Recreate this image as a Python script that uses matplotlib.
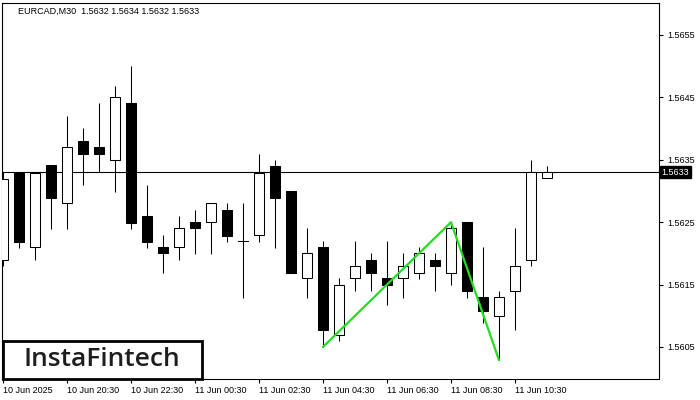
import matplotlib
matplotlib.use("Agg")
import matplotlib.pyplot as plt
from matplotlib.patches import Rectangle

plt.rcParams['font.family'] = ['Liberation Sans', 'DejaVu Sans']

opens = [1.56189, 1.56329, 1.56210, 1.56341, 1.56280, 1.56380, 1.56371, 1.56349, 1.56441, 1.56260,
         1.56210, 1.56210, 1.56250, 1.56250, 1.56270, 1.56220, 1.56229, 1.56340, 1.56300, 1.56160,
         1.56210, 1.56069, 1.56160, 1.56189, 1.56160, 1.56160, 1.56169, 1.56189, 1.56169, 1.56250,
         1.56130, 1.56099, 1.56139, 1.56189, 1.5632]
highs = [1.56330, 1.56330, 1.56329, 1.56341, 1.56420, 1.56401, 1.56441, 1.56469, 1.56500, 1.56310,
         1.56230, 1.56260, 1.56270, 1.56280, 1.56280, 1.56280, 1.56360, 1.56350, 1.56300, 1.56240,
         1.56220, 1.56160, 1.56220, 1.56200, 1.56220, 1.56200, 1.56210, 1.56200, 1.56250, 1.56250,
         1.56210, 1.56140, 1.56241, 1.56349, 1.5634]
lows = [1.56179, 1.56209, 1.56189, 1.56239, 1.56239, 1.56309, 1.56330, 1.56299, 1.56239, 1.56209,
        1.56169, 1.56189, 1.56199, 1.56199, 1.56219, 1.56129, 1.56219, 1.56209, 1.56169, 1.56129,
        1.56050, 1.56059, 1.56139, 1.56139, 1.56118, 1.56129, 1.56159, 1.56139, 1.56149, 1.56129,
        1.56089, 1.56029, 1.56078, 1.56179, 1.5632]
closes = [1.56319, 1.56219, 1.56329, 1.56289, 1.56371, 1.56360, 1.56360, 1.56450, 1.56249, 1.56219,
          1.56200, 1.56240, 1.56240, 1.56280, 1.56228, 1.56220, 1.56329, 1.56289, 1.56169, 1.56200,
          1.56078, 1.56149, 1.56179, 1.56169, 1.56149, 1.56179, 1.56200, 1.56179, 1.56240, 1.56139,
          1.56108, 1.56130, 1.56179, 1.56330, 1.5633]

pattern_idx = [20, 28, 31]
pattern_price = [1.56050, 1.56250, 1.56029]

current_price = 1.5633
yticks = [1.5605, 1.5615, 1.5625, 1.5635, 1.5645, 1.5655]
xtick_idx = [0, 4, 8, 12, 16, 20, 24, 28, 32]
xtick_labels = ["10 Jun 2025", "10 Jun 20:30", "10 Jun 22:30", "11 Jun 00:30", "11 Jun 02:30",
                "11 Jun 04:30", "11 Jun 06:30", "11 Jun 08:30", "11 Jun 10:30"]
title_text = "EURCAD,M30  1.5632 1.5634 1.5632 1.5633"

W, H = 700, 400
fig = plt.figure(figsize=(7, 4), dpi=100)
ax = fig.add_axes([2 / W, (H - 379) / H, 657 / W, 376.5 / H])
ax.set_xlim(-0.0625, 41)
ax.set_ylim(1.559987, 1.56602)

bw = 0.625
for i, (o, h, l, c) in enumerate(zip(opens, highs, lows, closes)):
    top = max(o, c)
    bot = min(o, c)
    ax.plot([i, i], [l, bot], color='black', lw=0.75, zorder=2, solid_capstyle='butt')
    ax.plot([i, i], [top, h], color='black', lw=0.75, zorder=2, solid_capstyle='butt')
    if abs(top - bot) < 1e-6:
        ax.plot([i - bw / 2, i + bw / 2], [o, o], color='black', lw=0.75, zorder=3)
    else:
        fc = 'white' if c > o else 'black'
        ax.add_patch(Rectangle((i - bw / 2, bot), bw, top - bot, facecolor=fc,
                               edgecolor='black', lw=0.75, zorder=3))

ax.axhline(current_price, color='black', lw=0.8, zorder=1)
ax.plot(pattern_idx, pattern_price, color='#22dd22', lw=1.6, zorder=4, solid_capstyle='round')

for s in ax.spines.values():
    s.set_color('black')
    s.set_linewidth(0.8)

ax.yaxis.tick_right()
ax.set_yticks(yticks)
ax.set_yticklabels([f"{v:.4f}" for v in yticks])
ax.tick_params(axis='y', direction='out', length=3, width=0.8, labelsize=6.5, pad=3, colors='black')
ax.set_xticks(xtick_idx)
ax.set_xticklabels(xtick_labels, ha='left')
ax.tick_params(axis='x', direction='out', length=3, width=0.8, labelsize=6.5, pad=2, colors='black')

fig.text(18 / W, 1 - 11 / H, title_text, fontsize=6.5, va='center', ha='left', color='black')

# current price tag
ax.text(1.0035, current_price, "1.5633", transform=ax.get_yaxis_transform(), fontsize=6.5,
        color='white', va='center', ha='left',
        bbox=dict(boxstyle='square,pad=0.18', facecolor='black', edgecolor='black'), clip_on=False)

# watermark
box = Rectangle((2.7 / W, (H - 378.5) / H), 199 / W, 37.5 / H, transform=fig.transFigure,
                facecolor='white', edgecolor='black', lw=2, zorder=10)
fig.patches.append(box)
fig.text(101.5 / W, 1 - 359.5 / H, "InstaFintech", fontsize=19, family='Open Sans', fontweight='semibold',
         color='#1e1e1e', ha='center', va='center', zorder=11)

fig.savefig("out.png", dpi=100)
